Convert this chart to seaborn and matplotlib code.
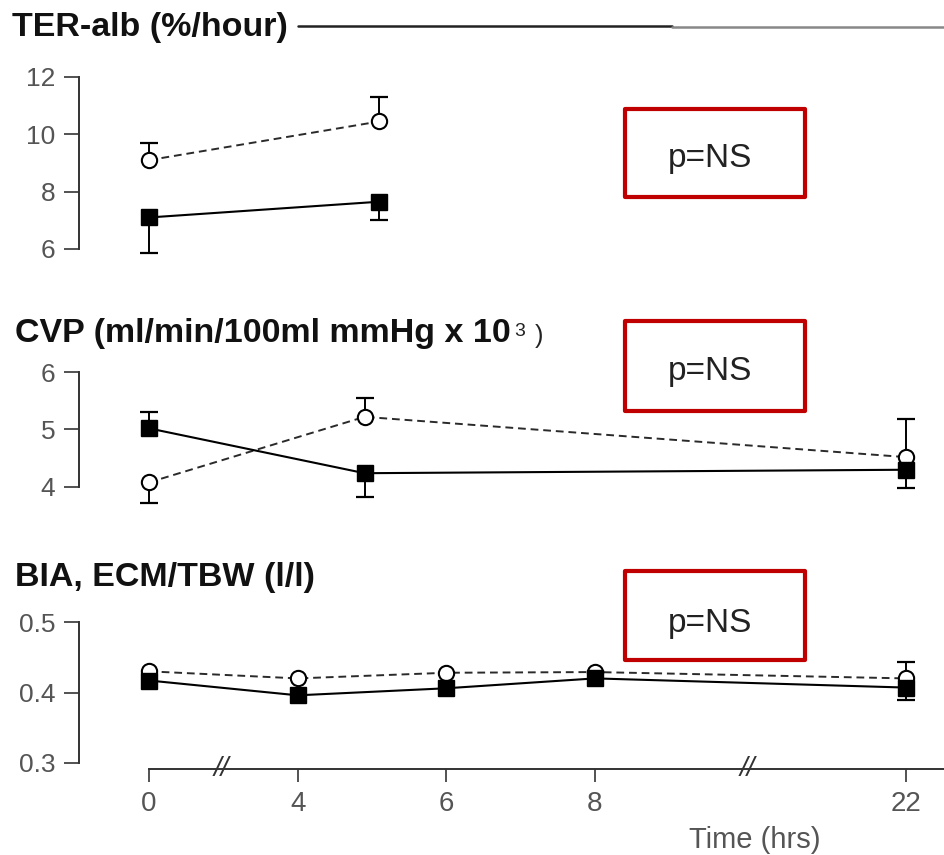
import numpy as np
import pandas as pd
import matplotlib
matplotlib.use("Agg")
import matplotlib.pyplot as plt
import seaborn as sns
from matplotlib.patches import Rectangle

# ---------------- data ----------------
tick_hours = [0, 4, 6, 8, 22]
tick_labels = ["0", "4", "6", "8", "22"]

ter_hours = [0, 5.1]
ter_open = [9.1, 10.45]
ter_open_lo = [0.0, 0.0]
ter_open_hi = [0.6, 0.85]
ter_filled = [7.1, 7.65]
ter_filled_lo = [1.25, 0.65]
ter_filled_hi = [0.0, 0.0]
ter_yticks = [6, 8, 10, 12]

cvp_hours = [0, 4.9, 22]
cvp_open = [4.08, 5.22, 4.52]
cvp_open_lo = [0.36, 0.0, 0.0]
cvp_open_hi = [0.0, 0.33, 0.66]
cvp_filled = [5.02, 4.24, 4.30]
cvp_filled_lo = [0.0, 0.41, 0.32]
cvp_filled_hi = [0.28, 0.0, 0.0]
cvp_yticks = [4, 5, 6]

bia_hours = [0, 4, 6, 8, 22]
bia_open = [0.430, 0.420, 0.428, 0.429, 0.420]
bia_open_lo = [0, 0, 0, 0, 0]
bia_open_hi = [0, 0, 0, 0, 0.023]
bia_filled = [0.417, 0.396, 0.406, 0.420, 0.407]
bia_filled_lo = [0, 0, 0, 0, 0.017]
bia_filled_hi = [0, 0, 0, 0, 0]
bia_yticks = [0.3, 0.4, 0.5]

title_ter = "TER-alb (%/hour)"
title_cvp = "CVP (ml/min/100ml mmHg x 10"
title_cvp_sup = "3"
title_bia = "BIA, ECM/TBW (l/l)"
p_text = "p=NS"
xlabel = "Time (hrs)"

# ---------------- style ----------------
sns.set_style("white")
plt.rcParams["font.family"] = ["Liberation Sans", "DejaVu Sans"]

W, H = 944, 855
fig = plt.figure(figsize=(W / 100, H / 100), dpi=100)


def fx(x):
    return x / W


def fy(y):
    return 1 - y / H


# broken time axis as a piecewise-linear function scale
knot_h = [-8, 0, 4, 6, 8, 22, 50]
knot_p = [-2, 0, 1, 2, 3, 5.0908, 5.0908 + 28 * 0.14934]


def fwd(h):
    return np.interp(h, knot_h, knot_p)


def inv(p):
    return np.interp(p, knot_p, knot_h)


XLIM = (-1.884, 23.72)
AX_L, AX_R = 79, 944


def make_ax(ytop_px, ybot_px):
    ax = fig.add_axes([fx(AX_L), fy(ybot_px), (AX_R - AX_L) / W, (ybot_px - ytop_px) / H])
    ax.set_xscale("function", functions=(fwd, inv))
    ax.set_xlim(*XLIM)
    return ax


def draw(ax, hours, ov, olo, ohi, fv, flo, fhi):
    hours = np.asarray(hours, float)
    for v, lo, hi in [(ov, olo, ohi), (fv, flo, fhi)]:
        v = np.asarray(v, float)
        lo = np.asarray(lo, float)
        hi = np.asarray(hi, float)
        ax.errorbar(hours, v, yerr=[lo, hi], fmt="none", ecolor="black",
                    elinewidth=1.4, capsize=0, zorder=2)
        cx = np.concatenate([hours[lo > 0], hours[hi > 0]])
        cy = np.concatenate([(v - lo)[lo > 0], (v + hi)[hi > 0]])
        ax.plot(cx, cy, ls="none", marker="_", ms=13, mew=1.6, color="black", zorder=2)
    df_o = pd.DataFrame({"h": hours, "v": ov})
    df_f = pd.DataFrame({"h": hours, "v": fv})
    sns.lineplot(data=df_o, x="h", y="v", ax=ax, estimator=None, sort=False,
                 color="#2a2a2a", linestyle=(0, (4, 2.5)), linewidth=1.4,
                 marker="o", markersize=11, markerfacecolor="white",
                 markeredgecolor="black", markeredgewidth=1.5, zorder=3)
    sns.lineplot(data=df_f, x="h", y="v", ax=ax, estimator=None, sort=False,
                 color="black", linewidth=1.5,
                 marker="s", markersize=11.5, markerfacecolor="black",
                 markeredgecolor="black", markeredgewidth=1.0, zorder=4)
    for art in list(ax.lines) + list(ax.collections):
        art.set_clip_on(False)
    ax.set_xlabel("")
    ax.set_ylabel("")
    ax.set_xlim(*XLIM)


def style_y(ax, ticks, labels, lim, bounds):
    ax.set_ylim(*lim)
    ax.set_yticks(ticks)
    ax.set_yticklabels(labels)
    ax.spines["left"].set_bounds(*bounds)
    for s in ["top", "right"]:
        ax.spines[s].set_visible(False)
    ax.spines["left"].set_color("#333333")
    ax.spines["left"].set_linewidth(1.4)
    ax.tick_params(axis="y", direction="out", left=True, length=11, width=1.3,
                   color="#444444", labelsize=19, labelcolor="#555555", pad=6)
    ax.patch.set_alpha(0)


# ---------- panel 1: TER-alb ----------
ax1 = make_ax(77, 249)
draw(ax1, ter_hours, ter_open, ter_open_lo, ter_open_hi,
     ter_filled, ter_filled_lo, ter_filled_hi)
style_y(ax1, ter_yticks, [str(t) for t in ter_yticks], (6, 12), (6, 12))
ax1.spines["bottom"].set_visible(False)
ax1.set_xticks([])

# ---------- panel 2: CVP ----------
ax2 = make_ax(372, 487)
draw(ax2, cvp_hours, cvp_open, cvp_open_lo, cvp_open_hi,
     cvp_filled, cvp_filled_lo, cvp_filled_hi)
style_y(ax2, cvp_yticks, [str(t) for t in cvp_yticks], (4, 6), (4, 6))
ax2.spines["bottom"].set_visible(False)
ax2.set_xticks([])

# ---------- panel 3: BIA ----------
ax3 = make_ax(622, 769)
draw(ax3, bia_hours, bia_open, bia_open_lo, bia_open_hi,
     bia_filled, bia_filled_lo, bia_filled_hi)
style_y(ax3, bia_yticks, ["%.1f" % t for t in bia_yticks],
        (0.3 - 6 / 705, 0.5), (0.3, 0.5))
ax3.spines["bottom"].set_bounds(0, XLIM[1])
ax3.spines["bottom"].set_color("#333333")
ax3.spines["bottom"].set_linewidth(1.4)
ax3.set_xticks(tick_hours)
ax3.set_xticklabels(tick_labels)
ax3.xaxis.set_minor_locator(matplotlib.ticker.NullLocator())
ax3.tick_params(axis="x", direction="out", bottom=True, length=9.5, width=1.3,
                color="#444444", labelsize=20, labelcolor="#555555", pad=6)
# axis break marks
for hb in [1.94, 14.84]:
    ax3.text(hb, 0.3 - 6 / 705, "//", ha="center", va="center", fontsize=20,
             style="italic", color="#333333", clip_on=False)

# ---------- titles ----------
fig.text(fx(12), fy(36), title_ter, fontsize=24.5, fontweight="bold",
         color="#111111", va="baseline", ha="left")
fig.add_artist(plt.Line2D([fx(298), fx(672)], [fy(26), fy(26)], color="#222222", lw=1.8))
fig.add_artist(plt.Line2D([fx(672), fx(944)], [fy(27), fy(27)], color="#888888", lw=1.8))

t_cvp = fig.text(fx(15), fy(342), title_cvp, fontsize=24.5, fontweight="bold",
                 color="#111111", va="baseline", ha="left")
renderer = fig.canvas.get_renderer()
x_end = t_cvp.get_window_extent(renderer).x1
fig.text(fx(x_end + 3), fy(336), title_cvp_sup, fontsize=14, color="#222222",
         va="baseline", ha="left")
fig.text(fx(x_end + 24), fy(343), ")", fontsize=18, color="#222222",
         va="baseline", ha="left")

fig.text(fx(15), fy(586), title_bia, fontsize=24.5, fontweight="bold",
         color="#111111", va="baseline", ha="left")

# ---------- p=NS boxes ----------
boxes = [(625, 109, 805, 197, 167), (625, 321, 805, 411, 380), (625, 571, 805, 660, 632)]
for x0, y0, x1, y1, yb in boxes:
    rect = Rectangle((fx(x0), fy(y1)), (x1 - x0) / W, (y1 - y0) / H,
                     transform=fig.transFigure, fill=False, edgecolor="#c00000",
                     linewidth=3.0, joinstyle="round")
    fig.add_artist(rect)
    fig.text(fx(710), fy(yb), p_text, fontsize=24, color="#222222",
             ha="center", va="baseline")

fig.text(fx(755), fy(848), xlabel, fontsize=21, color="#555555",
         ha="center", va="baseline")

fig.savefig("out.png", dpi=100)
